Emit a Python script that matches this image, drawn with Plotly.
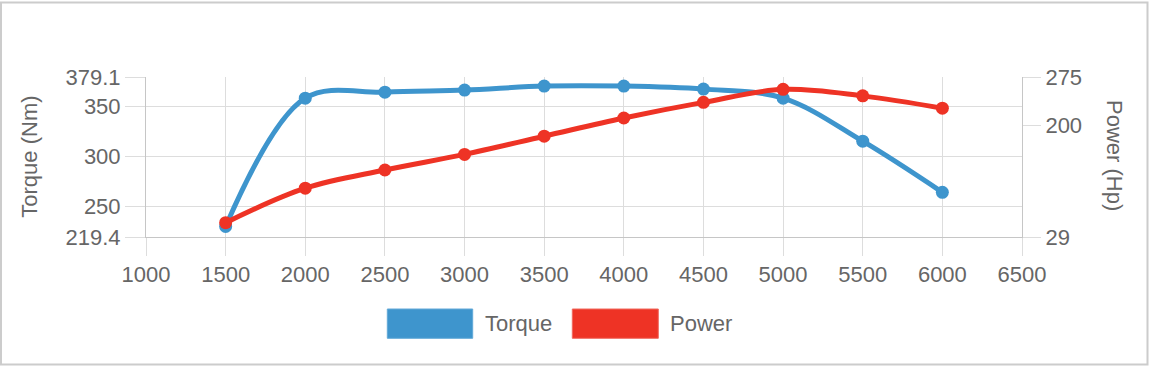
import plotly.graph_objects as go

rpm = [1500, 2000, 2500, 3000, 3500, 4000, 4500, 5000, 5500, 6000]
torque = [230, 358, 364, 366, 370, 370, 367, 358, 315, 264]
power = [51, 104, 132, 156, 184, 212, 236, 256, 246, 227]

x_ticks = [1000, 1500, 2000, 2500, 3000, 3500, 4000, 4500, 5000, 5500, 6000, 6500]
y_ticks = [219.4, 250, 300, 350, 379.1]
y_tick_text = ["219.4", "250", "300", "350", "379.1"]
y2_ticks = [29, 200, 275]

BLUE = "#3e95cd"
RED = "#ee3325"
GRID = "#dddddd"
AXIS = "#c6c6c6"
TXT = "#666666"
FONT = "Liberation Sans, Arial, sans-serif"
FS = 22

W, H = 1150, 368
L, R, T, B = 146, 128, 77, 131
PW, PH = W - L - R, H - T - B


def px(x):
    return (x - L) / PW


def py(y):
    return (H - B - y) / PH


fig = go.Figure()
fig.add_trace(go.Scatter(
    x=rpm, y=power, name="Power", yaxis="y2", mode="lines+markers",
    line=dict(color=RED, width=5, shape="spline", smoothing=1.0),
    marker=dict(color=RED, size=13), showlegend=False, cliponaxis=False))
fig.add_trace(go.Scatter(
    x=rpm, y=torque, name="Torque", mode="lines+markers",
    line=dict(color=BLUE, width=5, shape="spline", smoothing=1.0),
    marker=dict(color=BLUE, size=13), showlegend=False, cliponaxis=False))

fig.update_layout(
    width=W, height=H, margin=dict(l=L, r=R, t=T, b=B, autoexpand=False),
    paper_bgcolor="white", plot_bgcolor="white",
    font=dict(family=FONT, size=FS, color=TXT),
    xaxis=dict(range=[1000, 6500], tickvals=x_ticks, showgrid=True, gridcolor=GRID,
               gridwidth=1, zeroline=False, showline=True, linecolor=AXIS, linewidth=1,
               ticks="outside", ticklen=18, tickcolor=GRID, tickwidth=1,
               tickfont=dict(size=FS, color=TXT)),
    yaxis=dict(range=[219.4, 379.1], tickvals=y_ticks, ticktext=y_tick_text,
               showgrid=True, gridcolor=GRID, gridwidth=1, zeroline=False,
               showline=True, linecolor=AXIS, linewidth=1,
               ticks="outside", ticklen=20, tickcolor=GRID, tickwidth=1,
               tickfont=dict(size=FS, color=TXT)),
    yaxis2=dict(range=[29, 275], tickvals=y2_ticks, overlaying="y", side="right",
                showgrid=False, zeroline=False, showline=True, linecolor=AXIS,
                linewidth=1, ticks="outside", ticklen=18, tickcolor=GRID, tickwidth=1,
                tickfont=dict(size=FS, color=TXT)),
)

shapes = [
    dict(type="rect", xref="paper", yref="paper", x0=px(1), x1=px(1147.5),
         y0=py(364.5), y1=py(2.5), line=dict(color="#cccccc", width=2), layer="below"),
    dict(type="rect", xref="paper", yref="paper", x0=px(387.3), x1=px(472.7),
         y0=py(338.3), y1=py(309), fillcolor=BLUE, line=dict(color="#62a9d8", width=1)),
    dict(type="rect", xref="paper", yref="paper", x0=px(572.3), x1=px(658.3),
         y0=py(338.3), y1=py(309), fillcolor=RED, line=dict(color="#f06a5f", width=1)),
]
fig.update_layout(shapes=shapes)

annotations = [
    dict(text="Torque", x=px(482.7), y=py(323.7), xref="paper", yref="paper",
         xanchor="left", yanchor="middle", showarrow=False, font=dict(size=FS, color=TXT)),
    dict(text="Power", x=px(667.7), y=py(323.7), xref="paper", yref="paper",
         xanchor="left", yanchor="middle", showarrow=False, font=dict(size=FS, color=TXT)),
    dict(text="Torque (Nm)", x=px(30), y=py(156.7), xref="paper", yref="paper",
         xanchor="center", yanchor="middle", textangle=-90, showarrow=False,
         font=dict(size=FS, color=TXT)),
    dict(text="Power (Hp)", x=px(1115), y=py(155), xref="paper", yref="paper",
         xanchor="center", yanchor="middle", textangle=90, showarrow=False,
         font=dict(size=FS, color=TXT)),
]
fig.update_layout(annotations=annotations)

fig.write_html("out.html")
